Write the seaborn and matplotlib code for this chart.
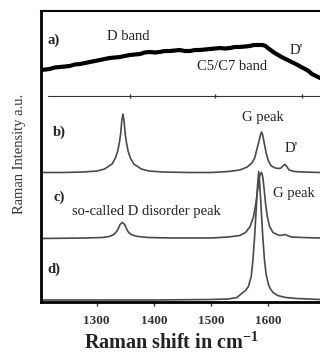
import matplotlib
matplotlib.use("Agg")
import matplotlib.pyplot as plt
import seaborn as sns
import pandas as pd

# ---------------- data ----------------
# a) broad spectrum (intensity above separator line)
a_x = [1203, 1211, 1218, 1227, 1236, 1245, 1253, 1262, 1271, 1280, 1288, 1297, 1306, 1314, 1323,
       1332, 1341, 1349, 1358, 1367, 1376, 1384, 1393, 1402, 1410, 1419, 1428, 1437, 1445, 1454,
       1463, 1472, 1480, 1489, 1498, 1507, 1515, 1524, 1533, 1541, 1550, 1559, 1567, 1575, 1582,
       1590, 1595, 1599, 1605, 1611, 1617, 1623, 1630, 1637, 1644, 1651, 1657, 1664, 1670, 1676,
       1683, 1690]
a_y = [26, 26.5, 27, 28.5, 29, 29.5, 30, 31.5, 32, 33, 34, 35, 36, 37, 38,
       38.5, 39, 40, 41, 41.5, 42, 43.5, 44, 43.5, 44, 45, 45, 45.5, 46, 45,
       45, 46, 46, 46.5, 47, 47.5, 48, 47.5, 48, 49, 49, 49.5, 50, 51, 51,
       51, 50, 48, 45.5, 43, 41, 39, 37, 35, 33, 31, 29, 27, 25, 22,
       20, 18]

# b) spectrum
b_x = [1203, 1240, 1276, 1301, 1314, 1327, 1333, 1337, 1340, 1342, 1344, 1346, 1348, 1350, 1352,
       1355, 1359, 1365, 1378, 1391, 1416, 1460, 1500, 1530, 1550, 1563, 1571, 1576, 1580, 1584,
       1586, 1588, 1590, 1592, 1596, 1600, 1605, 1612, 1618, 1622, 1626, 1629, 1632, 1636, 1645,
       1660, 1690]
b_y = [0.5, 0.5, 1, 2, 4, 9, 15, 22, 31, 39, 52, 59, 52, 39, 31,
       22, 15, 9, 4, 2, 1, 0.5, 0.5, 1.5, 3, 6, 10, 15, 24, 33,
       38, 41, 38, 32, 20, 12, 7, 5, 4.5, 5, 7.5, 8.5, 6.5, 3, 1.5,
       1, 0.5]

# c) spectrum
c_x = [1203, 1280, 1310, 1322, 1330, 1335, 1338, 1341, 1345, 1349, 1352, 1356, 1362, 1372, 1390,
       1430, 1500, 1530, 1550, 1560, 1568, 1574, 1578, 1581, 1584, 1586, 1588, 1590, 1592, 1595,
       1598, 1602, 1608, 1615, 1620, 1625, 1629, 1633, 1640, 1660, 1690]
c_y = [0, 0.5, 1, 2, 4, 7, 10, 14, 16, 14, 10, 6, 3.5, 2, 1,
       0.5, 0.5, 1.5, 3, 6, 12, 22, 35, 48, 60, 65, 66, 62, 52, 35,
       22, 12, 6, 4, 3, 3.5, 4, 3, 1.5, 1, 0.5]

# d) spectrum
d_x = [1203, 1300, 1400, 1500, 1530, 1545, 1549, 1560, 1565, 1570, 1573, 1576, 1579, 1581, 1583,
       1585, 1587, 1590, 1593, 1596, 1600, 1603, 1608, 1616, 1630, 1650, 1690]
d_y = [0.5, 0.5, 0.5, 1, 1.5, 3, 5, 10, 14, 24, 41, 65, 95, 115, 129,
       115, 95, 65, 41, 26, 16, 12, 8, 5, 3, 2, 1]

x_ticks = [1300, 1400, 1500, 1600]
sep_ticks = [1358, 1506, 1658]

# vertical offsets of the stacked spectra
off_a, off_sep, off_b, off_c, off_d = 206, 206, 129, 63.5, 1.5

# ---------------- style ----------------
sns.set_style("white")
plt.rcParams["font.family"] = ["Liberation Serif", "DejaVu Serif"]
plt.rcParams["mathtext.fontset"] = "custom"
plt.rcParams["mathtext.rm"] = "Liberation Serif"
plt.rcParams["mathtext.bf"] = "Liberation Serif:bold"

fig = plt.figure(figsize=(3.2, 3.54), dpi=100)
ax = fig.add_axes([41 / 320, 52 / 354, 1 - 41 / 320, (302 - 11) / 354])

def spec(xs, ys, off):
    return pd.DataFrame({"x": xs, "y": [v + off for v in ys]})

sns.lineplot(data=spec(a_x, a_y, off_a), x="x", y="y", ax=ax, color="black",
             linewidth=3.0, estimator=None)
sns.lineplot(data=spec(b_x, b_y, off_b), x="x", y="y", ax=ax, color="#4a4a4a",
             linewidth=1.2, estimator=None)
sns.lineplot(data=spec(c_x, c_y, off_c), x="x", y="y", ax=ax, color="#4a4a4a",
             linewidth=1.2, estimator=None)
sns.lineplot(data=spec(d_x, d_y, off_d), x="x", y="y", ax=ax, color="#4a4a4a",
             linewidth=1.2, estimator=None)

# separator line below panel a
ax.plot([1215, 1690], [off_sep, off_sep], color="#333333", linewidth=0.8)
ax.plot(sep_ticks, [off_sep] * len(sep_ticks), linestyle="none", marker="|",
        markersize=3, color="#333333", markeredgewidth=1)

ax.set_xlim(1203, 1690)
ax.set_ylim(0, 291)
ax.set_xticks(x_ticks)
ax.set_xticklabels([str(t) for t in x_ticks], fontweight="bold", fontsize=9.5, color="#333333")
ax.set_yticks([])
ax.tick_params(axis="x", direction="out", length=3, width=1, pad=6, bottom=True, colors="#333333")
ax.tick_params(axis="x", labelcolor="#333333")

for s in ["left", "bottom"]:
    ax.spines[s].set_linewidth(2)
    ax.spines[s].set_color("black")
ax.spines["top"].set_linewidth(1.5)
ax.spines["top"].set_color("black")
ax.spines["right"].set_visible(False)

ax.set_xlabel(r"Raman shift in cm$^{\mathbf{-1}}$", fontsize=14.5, fontweight="bold",
              color="#222222")
ax.xaxis.set_label_coords(0.466, -0.104)
ax.set_ylabel("Raman Intensity a.u.", fontsize=10.5, color="#333333")
ax.yaxis.set_label_coords(-0.054, 0.508)

tk = dict(color="#222222", va="center", ha="left")
ax.text(1215, 262, "a)", fontsize=10.5, fontweight="bold", **tk)
ax.text(1318, 265, "D band", fontsize=10.5, **tk)
ax.text(1475, 235, "C5/C7 band", fontsize=10.5, **tk)
ax.text(1637, 252, "D'", fontsize=10.5, **tk)
ax.text(1224, 170, "b)", fontsize=10.5, fontweight="bold", **tk)
ax.text(1553, 185, "G peak", fontsize=10.5, **tk)
ax.text(1629, 153, "D'", fontsize=10.5, **tk)
ax.text(1224, 105, "c)", fontsize=10.5, fontweight="bold", **tk)
ax.text(1257, 91, "so-called D disorder peak", fontsize=10.5, **tk)
ax.text(1608, 108, "G peak", fontsize=10.5, **tk)
ax.text(1215, 33, "d)", fontsize=10.5, fontweight="bold", **tk)

fig.savefig("out.png", dpi=100)
